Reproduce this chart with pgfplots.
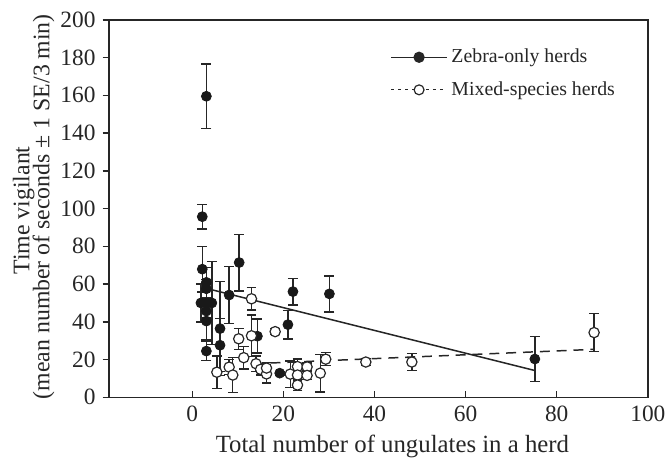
\documentclass[border=0pt]{standalone}
\usepackage{pgfplots}
\usepackage{pgfplotstable}
\pgfplotsset{compat=1.18}
\usepackage{fontspec}
\setmainfont{Liberation Serif}

\pgfplotstableread{
x y e
3.1 159.5 17
2.2 95.7 6.5
2.2 67.9 12
3.1 60.9 8
3.1 57.5 5
1.9 50.0 10
3.1 50.0 8
4.3 50.0 22
3.1 45.7 6
3.1 40.4 10
3.1 24.5 5
6.1 36.4 25
6.1 27.6 14
8.1 54.2 15
10.3 71.4 15
14.3 32.4 9
19.2 12.8 1
21.0 38.5 7.5
22.1 56.0 7
30.1 54.8 9.5
75.2 20.3 12
}\zebra

\pgfplotstableread{
x y e
5.4 13.3 8.5
8.1 16.0 4
8.9 11.8 9.4
10.2 31.0 5.6
11.3 21.0 6
13.0 52.2 6
13.0 32.6 11
14.0 17.8 4
15.0 14.8 3
16.3 12.4 4.8
16.3 15.5 3
18.2 34.8 1.5
21.5 12.3 7
23.1 16.3 4
23.1 11.8 3
23.1 6.5 3
25.2 16.1 2
25.2 11.6 2
28.1 12.8 10
29.3 20.2 3.5
38.1 18.7 2
48.2 18.7 4.6
88.2 34.3 10
}\mixed

\begin{document}
\begin{tikzpicture}
\begin{axis}[
  scale only axis, width=272pt, height=190.5pt,
  xmin=-18.3, xmax=100, ymin=0, ymax=200,
  xtick={0,20,...,100}, ytick={0,20,...,200},
  xtick align=inside, ytick align=outside,
  xtick pos=bottom, ytick pos=left,
  major tick length=3.2pt,
  tick style={line width=0.7pt, black!85},
  axis line style={line width=0.7pt, black!85},
  /pgf/number format/assume math mode=true,
  ticklabel style={font=\fontsize{11.8}{13}\selectfont, text=black!85},
  xticklabel style={yshift=-1pt},
  xlabel={Total number of ungulates in a herd},
  xlabel style={font=\fontsize{12.5}{14}\selectfont, text=black!85, at={(axis description cs:0.526,-0.13)}, anchor=center},
  ylabel={(mean number of seconds ± 1 SE/3 min)},
  ylabel style={font=\fontsize{12}{14}\selectfont, text=black!85, at={(axis description cs:-0.121,0.505)}, anchor=center},
  legend style={draw=none, fill=none, at={(0.958,0.945)}, anchor=north east,
    font=\fontsize{10}{12}\selectfont, row sep=4pt, text=black!85},
  legend cell align=left,
  legend image code/.code={\draw[mark repeat=2, mark phase=2, #1] plot coordinates {(0pt,0pt) (14pt,0pt) (28pt,0pt)};},
  clip=false,
]
\path (axis description cs:-0.202,-0.1575) rectangle (axis description cs:1.033,1.0525);
\node[rotate=90, anchor=center, font=\fontsize{12}{14}\selectfont, text=black!85] at (axis description cs:-0.158,0.495) {Time vigilant};

\addlegendimage{black!85, line width=0.7pt, mark=*, mark size=2.5pt}
\addlegendentry{Zebra-only herds}
\addlegendimage{black!85, line width=0.6pt, dash pattern=on 1.5pt off 2pt, mark=*, mark size=2.5pt, mark options={solid, fill=white}}
\addlegendentry{Mixed-species herds}

\addplot[forget plot, black!85, line width=0.75pt] coordinates {(3.1,57.7) (75.2,14.2)};
\addplot[forget plot, black!85, line width=0.75pt, dash pattern=on 5pt off 3.5pt] coordinates {(13.5,17.8) (88,25.4)};

\addplot[forget plot, only marks, mark=*, mark size=2.5pt, black!90,
  error bars/.cd, y dir=both, y explicit,
  error bar style={line width=0.7pt, black!85},
  error mark options={rotate=90, mark size=2.5pt, line width=0.7pt, black!85}]
  table[x=x, y=y, y error=e] {\zebra};

\addplot[forget plot, only marks, mark=*, mark size=2.6pt, mark options={fill=white, draw=black!85, line width=0.6pt},
  error bars/.cd, y dir=both, y explicit,
  error bar style={line width=0.7pt, black!85},
  error mark options={rotate=90, mark size=2.5pt, line width=0.7pt, black!85}]
  table[x=x, y=y, y error=e] {\mixed};
\end{axis}
\end{tikzpicture}
\end{document}
